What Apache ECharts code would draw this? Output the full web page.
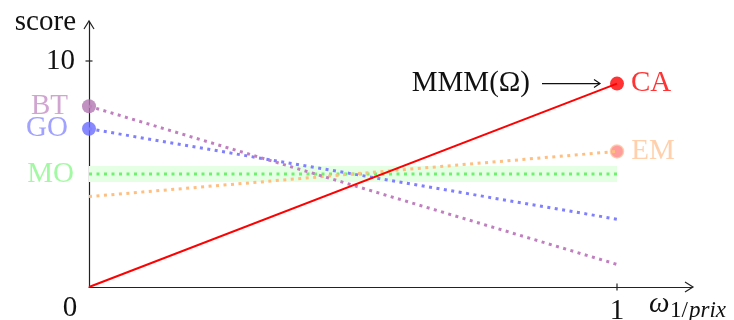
<!DOCTYPE html>
<html><head><meta charset="utf-8">
<script src="https://cdn.jsdelivr.net/npm/echarts@6/dist/echarts.min.js"></script>
<style>html,body{margin:0;padding:0;background:#fff}#c{width:734px;height:320px}</style>
</head><body><div id="c"></div>
<script>
// ---- data ----
const xDomain = [0, 1];
const caScores = [0, 9];
const emScores = [4, 6];
const moScores = [5, 5];
const goScores = [7, 3];
const btScores = [8, 1];
const moBand = [4.65, 5.35];
const yTickValues = [10];
const xTickValues = [1];
const leftPoints = [ // [name, score at x=0]
  ['BT', 8], ['GO', 7], ['MO', 5]
];
const rightPoints = [ // [name, score at x=1]
  ['CA', 9], ['EM', 6]
];
const annotationText = 'MMM(Ω)';

// ---- styles ----
const FONT = 'Liberation Serif';
const FS = 29;
const XMAX = 603 / 528;
const YMAX = 265 / 22.6;
const styles = {
  CA: {line: '#ff0000', dotted: false, width: 2, pt: '#ff0000', border: null, label: '#ff0000', size: 14},
  EM: {line: '#ffbf80', dotted: true, width: 3, pt: '#ff8585', border: '#ffc8a0', label: '#ffc496', size: 13},
  MO: {line: '#70f070', dotted: true, width: 3, pt: 'rgba(0,0,0,0)', border: null, label: '#8cf88c', size: 2},
  GO: {line: '#8080ff', dotted: true, width: 3, pt: '#6a6aff', border: null, label: '#8a8aff', size: 14},
  BT: {line: '#c080c0', dotted: true, width: 3, pt: '#b275b2', border: null, label: '#c58fc5', size: 14}
};

const chart = echarts.init(document.getElementById('c'), null, {renderer: 'canvas'});

function lineSeries(name, vals) {
  const s = styles[name];
  const ser = {
    type: 'line', name, animation: false, silent: true,
    data: xDomain.map((x, i) => [x, vals[i]]),
    symbol: 'none', z: name === 'CA' ? 4 : 3,
    lineStyle: {color: s.line, width: s.width, type: s.dotted ? [3, 4.5] : 'solid', cap: 'butt'}
  };
  if (name === 'MO') {
    ser.markArea = {
      silent: true,
      itemStyle: {color: '#e5ffe5'},
      data: [[{coord: [xDomain[0], moBand[0]]}, {coord: [xDomain[1], moBand[1]]}]]
    };
  }
  return ser;
}

function pointSeries(name, x, y, pos) {
  const s = styles[name];
  return {
    type: 'scatter', name: name + '_pt', animation: false, silent: true,
    data: [[x, y]], symbol: 'circle', symbolSize: s.size, z: name === 'CA' ? 5 : 2,
    itemStyle: {color: s.pt, borderColor: s.border || 'rgba(0,0,0,0)', borderWidth: s.border ? 1.5 : 0},
    label: {
      show: true, position: pos, distance: pos === 'left' ? 14 : 7,
      formatter: name, color: s.label, fontFamily: FONT, fontSize: FS
    }
  };
}

const series = [
  lineSeries('MO', moScores),
  lineSeries('EM', emScores),
  lineSeries('GO', goScores),
  lineSeries('BT', btScores),
  lineSeries('CA', caScores)
];
leftPoints.forEach(p => series.push(pointSeries(p[0], xDomain[0], p[1], 'left')));
rightPoints.forEach(p => series.push(pointSeries(p[0], xDomain[1], p[1], 'right')));

const axisColor = '#222';
chart.setOption({
  animation: false,
  backgroundColor: '#fff',
  grid: {left: 89, right: 42, top: 22, bottom: 33, containLabel: false, outerBoundsMode: 'none'},
  xAxis: {
    type: 'value', min: 0, max: XMAX,
    axisLine: {show: true, onZero: false, lineStyle: {color: axisColor, width: 1.2}},
    axisTick: {show: false}, splitLine: {show: false},
    axisLabel: {show: true, customValues: xTickValues, margin: 10, color: '#111', fontFamily: FONT, fontSize: FS}
  },
  yAxis: {
    type: 'value', min: 0, max: YMAX,
    axisLine: {show: true, onZero: false, lineStyle: {color: axisColor, width: 1.2}},
    axisTick: {show: false}, splitLine: {show: false},
    axisLabel: {show: true, customValues: yTickValues, margin: 14, color: '#111', fontFamily: FONT, fontSize: FS}
  },
  series
});

// ---- decorations computed from axis scales ----
const o = chart.convertToPixel({gridIndex: 0}, [0, 0]);
const xEnd = chart.convertToPixel({gridIndex: 0}, [XMAX, 0]);
const yEnd = chart.convertToPixel({gridIndex: 0}, [0, YMAX]);
const ca = chart.convertToPixel({gridIndex: 0}, [xDomain[1], rightPoints[0][1]]);
const graphic = [];
// arrowheads
graphic.push({type: 'polyline', shape: {points: [[xEnd[0] - 7, xEnd[1] - 5], [xEnd[0] + 1, xEnd[1]], [xEnd[0] - 7, xEnd[1] + 5]]}, style: {stroke: axisColor, lineWidth: 1.2, fill: null}, z: 10});
graphic.push({type: 'polyline', shape: {points: [[yEnd[0] - 5, yEnd[1] + 7], [yEnd[0], yEnd[1] - 1], [yEnd[0] + 5, yEnd[1] + 7]]}, style: {stroke: axisColor, lineWidth: 1.2, fill: null}, z: 10});
// ticks
yTickValues.forEach(v => {
  const p = chart.convertToPixel({gridIndex: 0}, [0, v]);
  graphic.push({type: 'line', shape: {x1: p[0] - 3.5, y1: p[1], x2: p[0] + 3.5, y2: p[1]}, style: {stroke: axisColor, lineWidth: 1.2}, z: 10});
});
xTickValues.forEach(v => {
  const p = chart.convertToPixel({gridIndex: 0}, [v, 0]);
  graphic.push({type: 'line', shape: {x1: p[0], y1: p[1] - 3.5, x2: p[0], y2: p[1] + 3.5}, style: {stroke: axisColor, lineWidth: 1.2}, z: 10});
});
// origin label
graphic.push({type: 'text', x: o[0] - 19, y: o[1] + 21, style: {text: '0', font: FS + 'px "' + FONT + '"', fill: '#111', align: 'center', verticalAlign: 'middle'}, z: 10});
// axis names
graphic.push({type: 'text', x: yEnd[0] - 13, y: yEnd[1], style: {text: 'score', font: FS + 'px "' + FONT + '"', fill: '#111', align: 'right', verticalAlign: 'middle'}, z: 10});
graphic.push({type: 'text', x: 649, y: 304, style: {text: 'ω', font: 'italic ' + FS + 'px "' + FONT + '"', fill: '#111', align: 'left', verticalAlign: 'middle'}, z: 10});
graphic.push({type: 'text', x: 670, y: 311, style: {text: '1/', font: '23px "' + FONT + '"', fill: '#111', align: 'left', verticalAlign: 'middle'}, z: 10});
graphic.push({type: 'text', x: 689, y: 311, style: {text: 'prix', font: 'italic 23px "' + FONT + '"', fill: '#111', align: 'left', verticalAlign: 'middle'}, z: 10});
// annotation arrow to CA
graphic.push({type: 'line', shape: {x1: ca[0] - 75, y1: ca[1], x2: ca[0] - 17, y2: ca[1]}, style: {stroke: '#111', lineWidth: 1.2}, z: 10});
graphic.push({type: 'polyline', shape: {points: [[ca[0] - 23, ca[1] - 4], [ca[0] - 17, ca[1]], [ca[0] - 23, ca[1] + 4]]}, style: {stroke: '#111', lineWidth: 1.2, fill: null}, z: 10});
graphic.push({type: 'text', x: ca[0] - 87, y: ca[1], style: {text: annotationText, font: FS + 'px "' + FONT + '"', fill: '#111', align: 'right', verticalAlign: 'middle'}, z: 10});
chart.setOption({graphic});
</script>
</body></html>
